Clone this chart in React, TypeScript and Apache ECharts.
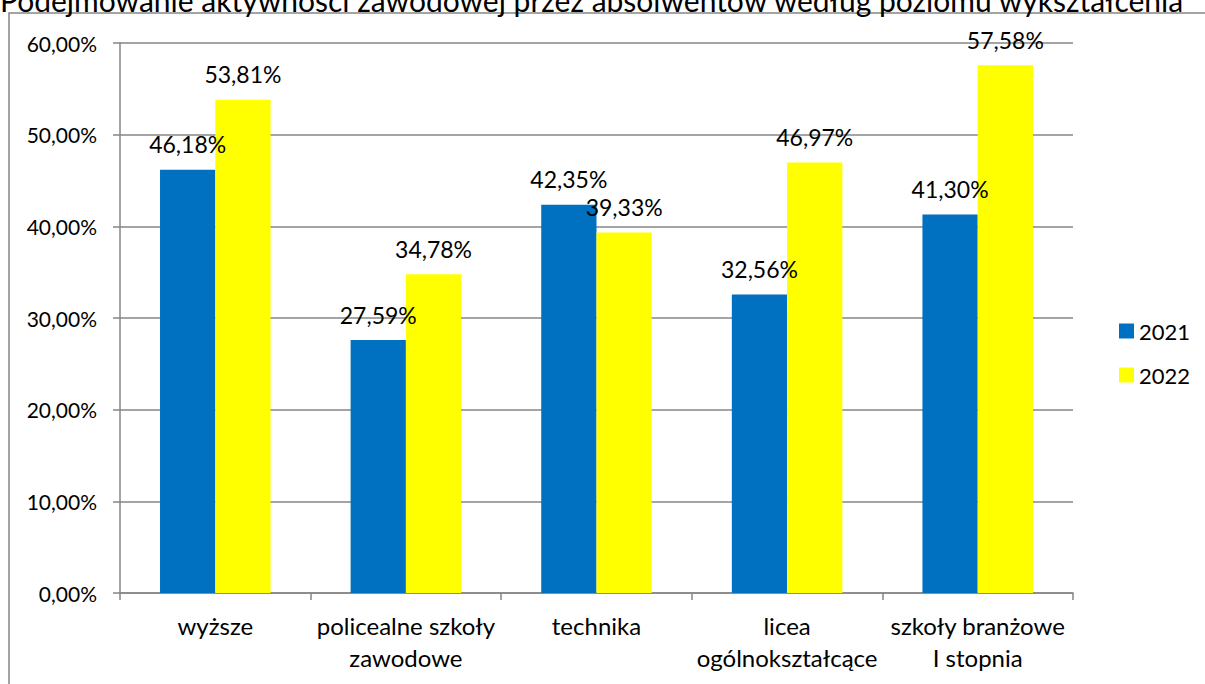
import React, { useEffect, useRef } from "react";
import * as echarts from "echarts";

const titleText = "Podejmowanie aktywności zawodowej przez absolwentów według poziomu wykształcenia";
const categories = ["wyższe", "policealne szkoły\nzawodowe", "technika", "licea\nogólnokształcące", "szkoły branżowe\nI stopnia"];
const seriesNames = ["2021", "2022"];
const values2021 = [46.18, 27.59, 42.35, 32.56, 41.3];
const values2022 = [53.81, 34.78, 39.33, 46.97, 57.58];
const colors = ["#0070C0", "#FFFF00"];

const fmt = (v: number) => v.toFixed(2).replace(".", ",") + "%";
const FONT = "Lato";

export default function App() {
  const ref = useRef<HTMLDivElement>(null);
  useEffect(() => {
    if (!ref.current) return;
    const chart = echarts.init(ref.current, null, { renderer: "svg" });
    const gray = "#868686";
    chart.setOption({
      animation: false,
      backgroundColor: "#ffffff",
      textStyle: { fontFamily: FONT, color: "#000" },
      graphic: [
        {
          type: "rect",
          shape: { x: 9, y: 13, width: 1220, height: 700 },
          style: { fill: "none", stroke: gray, lineWidth: 1.5 },
          silent: true,
        },
        {
          type: "text",
          x: 0,
          y: 15,
          style: {
            text: titleText,
            fontFamily: FONT,
            fontSize: 30,
            fill: "#000",
            verticalAlign: "bottom",
            align: "left",
          },
        },
      ],
      legend: {
        orient: "vertical",
        left: 1114,
        top: 315,
        itemWidth: 15,
        itemHeight: 15,
        itemGap: 22,
        icon: "rect",
        textStyle: { fontFamily: FONT, fontSize: 22, color: "#000" },
        data: seriesNames,
      },
      grid: { left: 120, right: 132, top: 43, bottom: 91, containLabel: false },
      xAxis: {
        type: "category",
        data: categories,
        axisLine: { lineStyle: { color: gray, width: 1.5 } },
        axisTick: { show: true, length: 7, lineStyle: { color: gray, width: 1.5 } },
        axisLabel: {
          interval: 0,
          fontFamily: FONT,
          fontSize: 24,
          color: "#000",
          margin: 16,
          lineHeight: 32,
        },
      },
      yAxis: {
        type: "value",
        min: 0,
        max: 60,
        interval: 10,
        axisLine: { show: true, lineStyle: { color: gray, width: 1.5 } },
        axisTick: { show: true, length: 7, lineStyle: { color: gray, width: 1.5 } },
        splitLine: { lineStyle: { color: gray, width: 1.5 } },
        axisLabel: {
          fontFamily: FONT,
          fontSize: 21,
          color: "#000",
          margin: 23,
          formatter: (v: number) => fmt(v),
        },
      },
      series: [values2021, values2022].map((vals, i) => ({
        name: seriesNames[i],
        type: "bar",
        data: vals,
        barGap: "0%",
        barCategoryGap: "42%",
        itemStyle: { color: colors[i] },
        label: {
          show: true,
          position: "top",
          distance: 14,
          fontFamily: FONT,
          fontSize: 23,
          color: "#000",
          formatter: (p: any) => fmt(p.value),
        },
      })),
    });
    return () => chart.dispose();
  }, []);
  return (
    <div
      ref={ref}
      style={{ position: "fixed", left: 0, top: 0, width: 1205, height: 684, background: "#fff" }}
    />
  );
}
